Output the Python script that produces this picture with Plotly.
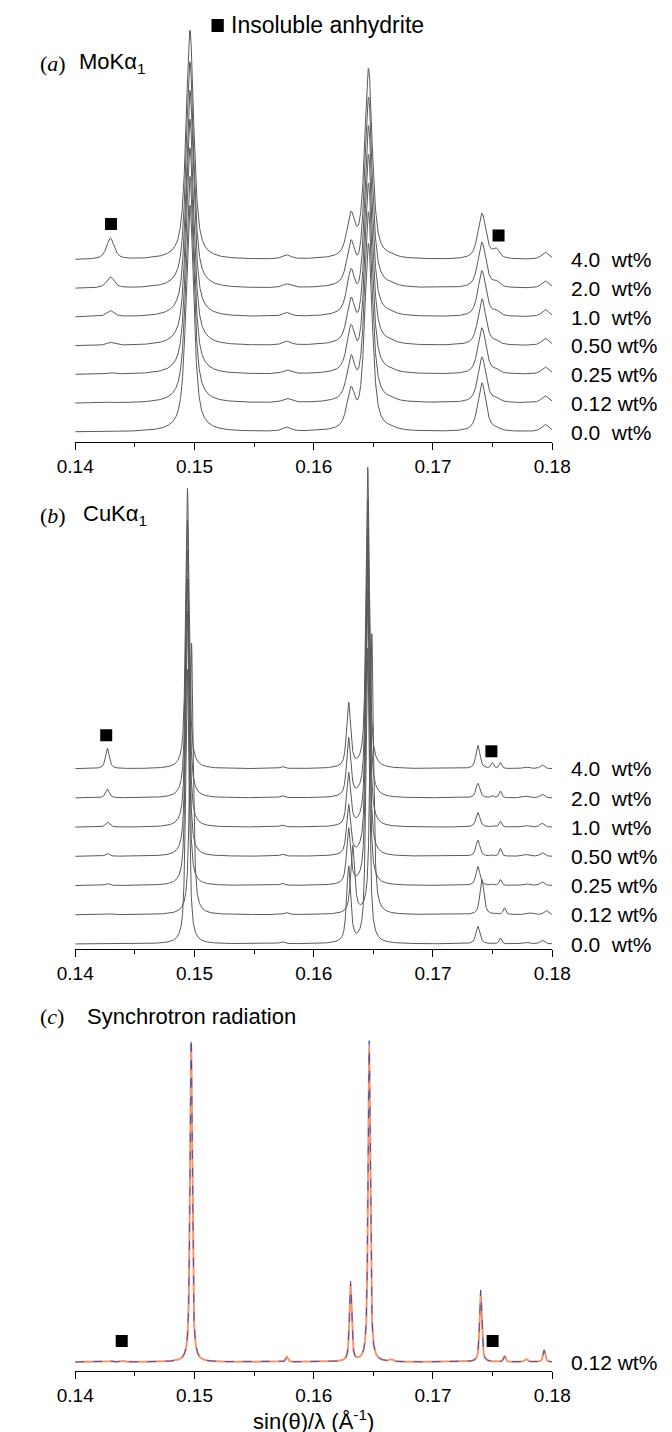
import numpy as np
import plotly.graph_objects as go

W, H = 672, 1432

# ---------------- data ----------------
x_min, x_max = 0.14, 0.18
x_ticks = [0.14, 0.15, 0.16, 0.17, 0.18]
x_tick_labels = ["0.14", "0.15", "0.16", "0.17", "0.18"]
x_minor_ticks = [0.145, 0.155, 0.165, 0.175]

sample_labels = ["4.0\u00a0\u00a0wt%", "2.0\u00a0\u00a0wt%", "1.0\u00a0\u00a0wt%", "0.50 wt%",
                 "0.25 wt%", "0.12 wt%", "0.0\u00a0\u00a0wt%"]
stack_offsets = [6, 5, 4, 3, 2, 1, 0]

# (a) MoKa1 : peak positions (sin(theta)/lambda), half widths, heights per sample
mo_pos = [0.14295, 0.14962, 0.15774, 0.16312, 0.16459, 0.1665, 0.17411, 0.17530, 0.17942]
mo_hwhm = [0.00038, 0.00038, 0.00042, 0.00040, 0.00038, 0.0004, 0.00040, 0.00032, 0.00038]
mo_heights = [
    [0.74, 8.0, 0.14, 1.40, 6.6, 0.05, 1.60, 0.30, 0.25],   # 4.0
    [0.39, 7.9, 0.13, 1.40, 6.6, 0.05, 1.60, 0.17, 0.25],   # 2.0
    [0.21, 7.9, 0.13, 1.40, 6.6, 0.05, 1.60, 0.14, 0.25],   # 1.0
    [0.10, 7.9, 0.13, 1.40, 6.6, 0.05, 1.62, 0.10, 0.25],   # 0.50
    [0.05, 7.9, 0.13, 1.45, 6.6, 0.05, 1.62, 0.10, 0.25],   # 0.25
    [0.02, 7.9, 0.14, 1.40, 6.6, 0.05, 1.60, 0.10, 0.25],   # 0.12
    [0.00, 7.9, 0.14, 1.30, 6.5, 0.05, 1.70, 0.07, 0.25],   # 0.0
]

# (b) CuKa1
cu_pos = [0.14270, 0.14941, 0.15735, 0.16293, 0.16453, 0.17377, 0.17497, 0.17565, 0.17777, 0.17915]
cu_hwhm = [0.00019, 0.00017, 0.00022, 0.00020, 0.00017, 0.00020, 0.00012, 0.00012, 0.00030, 0.00020]
cu_shift = [0.0, 0.0, 0.0, 0.0, 0.0, 0.00034, 0.0]
cu_heights = [
    [0.70, 9.6, 0.07, 2.2, 10.3, 0.80, 0.20, 0.20, 0.06, 0.13],   # 4.0
    [0.30, 9.5, 0.07, 2.0, 10.2, 0.50, 0.07, 0.23, 0.06, 0.13],   # 2.0
    [0.17, 9.5, 0.07, 1.8, 10.2, 0.50, 0.03, 0.20, 0.06, 0.13],   # 1.0
    [0.10, 9.5, 0.07, 1.7, 10.2, 0.55, 0.03, 0.27, 0.06, 0.13],   # 0.50
    [0.07, 9.4, 0.07, 1.9, 10.1, 0.65, 0.03, 0.20, 0.06, 0.13],   # 0.25
    [0.03, 9.3, 0.07, 2.3, 9.6, 1.20, 0.03, 0.23, 0.06, 0.15],    # 0.12
    [0.00, 9.4, 0.07, 2.6, 10.1, 0.60, 0.00, 0.20, 0.06, 0.13],   # 0.0
]

# (c) synchrotron, 0.12 wt% : observed and calculated
sy_pos = [0.14300, 0.14400, 0.14972, 0.15774, 0.16309, 0.16465, 0.16650, 0.17400, 0.17600, 0.17780, 0.17932]
sy_hwhm = [0.00012, 0.00012, 0.00011, 0.00011, 0.00011, 0.00011, 0.00015, 0.00011, 0.00010, 0.00015, 0.00011]
sy_obs_heights = [0.04, 0.04, 10.6, 0.17, 2.55, 10.5, 0.07, 2.30, 0.20, 0.10, 0.40]
sy_calc_heights = [0.03, 0.03, 10.8, 0.16, 2.65, 10.7, 0.06, 2.40, 0.19, 0.09, 0.40]
sy_label = "0.12 wt%"

# anhydrite markers (x, y in stacked intensity units)
anh_mo_x, anh_mo_y = [0.1430, 0.1755], [7.25, 6.85]
anh_cu_x, anh_cu_y = [0.1426, 0.1749], [7.15, 6.6]
anh_sy_x, anh_sy_y = [0.1439, 0.1750], [0.7, 0.7]

# ---------------- helpers ----------------
x_grid = np.linspace(x_min, x_max, 4001)


def profile(pos, hwhm, heights, shift=0.0, eta=0.7):
    y = np.zeros_like(x_grid)
    for p, w, h in zip(pos, hwhm, heights):
        d = (x_grid - (p + shift)) / w
        y += h * (eta / (1 + d * d) + (1 - eta) * np.exp(-np.log(2) * d * d))
    return y


def pyf(p):
    return 1 - p / H


FONT = "Liberation Sans, Arial, sans-serif"
SERIF = "Liberation Serif, Times New Roman, serif"
LINE = "rgb(90,90,90)"

# panel geometry (pixels)
panels = {
    "a": dict(axis=434, base=424, unit=28.7, top=0),
    "b": dict(axis=941, base=936, unit=29.2, top=445),
    "c": dict(axis=1363, base=1354, unit=30.0, top=1010),
}
XD = [52 / W, 556 / W]
LAB_X = 574 / W
LAB_SIZE = 21

fig = go.Figure()


def add_stack(pos, hwhm, heights, shifts, xa, ya):
    for i, (hs, off) in enumerate(zip(heights, stack_offsets)):
        sh = shifts[i] if shifts else 0.0
        fig.add_trace(go.Scatter(x=x_grid, y=profile(pos, hwhm, hs, sh) + off, mode="lines",
                                 line=dict(color=LINE, width=1), xaxis=xa, yaxis=ya,
                                 showlegend=False, hoverinfo="skip"))


add_stack(mo_pos, mo_hwhm, mo_heights, None, "x", "y")
add_stack(cu_pos, cu_hwhm, cu_heights, cu_shift, "x2", "y2")

fig.add_trace(go.Scatter(x=x_grid, y=profile(sy_pos, sy_hwhm, sy_obs_heights), mode="lines",
                         line=dict(color="rgb(244,150,115)", width=2), xaxis="x3", yaxis="y3",
                         showlegend=False, hoverinfo="skip"))
fig.add_trace(go.Scatter(x=x_grid, y=profile(sy_pos, sy_hwhm, sy_calc_heights), mode="lines",
                         line=dict(color="rgb(70,80,160)", width=1, dash="dash"), xaxis="x3", yaxis="y3",
                         showlegend=False, hoverinfo="skip"))

for xs, ys, xa, ya in [(anh_mo_x, anh_mo_y, "x", "y"), (anh_cu_x, anh_cu_y, "x2", "y2"),
                       (anh_sy_x, anh_sy_y, "x3", "y3")]:
    fig.add_trace(go.Scatter(x=xs, y=ys, mode="markers", marker=dict(symbol="square", size=12, color="black"),
                             xaxis=xa, yaxis=ya, showlegend=False, hoverinfo="skip"))

axis_common = dict(range=[x_min, x_max], domain=XD, tickvals=x_ticks, ticktext=x_tick_labels,
                   ticks="outside", ticklen=7, tickwidth=1, tickcolor="black", showline=True,
                   linecolor="black", linewidth=1, showgrid=False, zeroline=False,
                   tickfont=dict(family=FONT, size=19, color="black"),
                   minor=dict(tickvals=x_minor_ticks, ticks="outside", ticklen=4, tickcolor="black"))

layout = dict(width=W, height=H, margin=dict(l=0, r=0, t=0, b=0), paper_bgcolor="white",
              plot_bgcolor="white", showlegend=False)
for k, name in zip(["a", "b", "c"], ["", "2", "3"]):
    g = panels[k]
    layout["xaxis" + name] = dict(axis_common, anchor="y" + name)
    layout["yaxis" + name] = dict(domain=[pyf(g["axis"]), pyf(g["top"])],
                                  range=[-(g["axis"] - g["base"]) / g["unit"], (g["base"] - g["top"]) / g["unit"]],
                                  visible=False, anchor="x" + name)
layout["xaxis3"]["title"] = dict(text="sin(\u03b8)/\u03bb (\u00c5<sup>-1</sup>)", font=dict(family=FONT, size=22, color="black"),
                                 standoff=6)
fig.update_layout(**layout)

ann = []
# right labels
for lab, off in zip(sample_labels, stack_offsets):
    for yr in ["y", "y2"]:
        ann.append(dict(x=LAB_X, xref="paper", y=off, yref=yr, text=lab, showarrow=False, xanchor="left",
                        yanchor="middle", font=dict(family=FONT, size=LAB_SIZE, color="black")))
ann.append(dict(x=LAB_X, xref="paper", y=0, yref="y3", text=sy_label, showarrow=False, xanchor="left",
                yanchor="middle", font=dict(family=FONT, size=LAB_SIZE, color="black")))

# panel titles
for lbl, txt, yy, xt in [("a", "MoK\u03b1<sub>1</sub>", 55, 54), ("b", "CuK\u03b1<sub>1</sub>", 507, 58),
                          ("c", "Synchrotron radiation", 1008, 62)]:
    ann.append(dict(x=13 / W, xref="paper", y=pyf(yy), yref="paper", text="(<i>%s</i>)" % lbl, showarrow=False,
                    xanchor="left", yanchor="middle", font=dict(family=SERIF, size=22, color="black")))
    ann.append(dict(x=xt / W, xref="paper", y=pyf(yy), yref="paper", text=txt, showarrow=False,
                    xanchor="left", yanchor="middle", font=dict(family=FONT, size=22, color="black")))

ann.append(dict(x=214 / W, xref="paper", y=pyf(17), yref="paper", text="Insoluble anhydrite", showarrow=False,
                xanchor="left", yanchor="middle", font=dict(family=FONT, size=23, color="black")))
fig.update_layout(annotations=ann)
fig.add_shape(type="rect", xref="paper", yref="paper", x0=196 / W, x1=209 / W, y0=pyf(24), y1=pyf(11),
              fillcolor="black", line=dict(width=0))

fig.write_html("out.html")
